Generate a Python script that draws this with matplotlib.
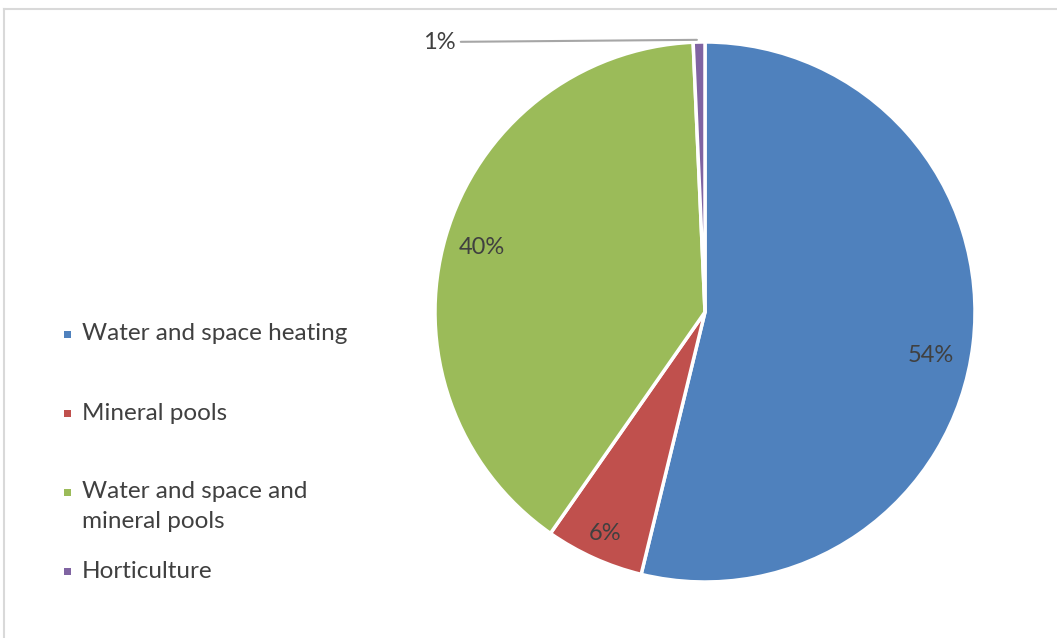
import matplotlib
matplotlib.use("Agg")
import matplotlib.pyplot as plt
from matplotlib.patches import Rectangle
from matplotlib.lines import Line2D

categories = ["Water and space heating", "Mineral pools",
              "Water and space and\nmineral pools", "Horticulture"]
values = [53.8, 5.9, 39.6, 0.7]
colors = ["#4F81BD", "#C0504D", "#9BBB59", "#8064A2"]

plt.rcParams['font.family'] = ['Lato', 'DejaVu Sans']
W, H = 1057, 638
fig = plt.figure(figsize=(W / 100, H / 100), dpi=100)

# frame border (top and left visible)
fig.add_artist(Line2D([3.5 / W, 3.5 / W], [0, 1 - 9 / H], transform=fig.transFigure,
                      color="#D9D9D9", lw=1.5))
fig.add_artist(Line2D([3.5 / W, 1], [1 - 9 / H, 1 - 9 / H], transform=fig.transFigure,
                      color="#D9D9D9", lw=1.5))

cx, cy, r = 705, 312, 270
ax = fig.add_axes([(cx - r) / W, (H - cy - r) / H, 2 * r / W, 2 * r / H])

def fmt(p):
    return f"{p:.0f}%"

wedges, texts, autotexts = ax.pie(values, colors=colors, startangle=90, counterclock=False,
                                  radius=1, autopct=fmt, pctdistance=0.86,
                                  wedgeprops=dict(edgecolor='white', linewidth=2.5),
                                  textprops=dict(color='#404040', fontsize=17))
ax.set_xlim(-1, 1)
ax.set_ylim(-1, 1)
ax.set_aspect('equal')
ax.axis('off')

# Excel-style "best fit" label placement nudges
autotexts[0].set_position((0.835, -0.16))
autotexts[1].set_position((-0.37, -0.82))

# small slice label outside with leader line
autotexts[3].set_visible(False)
ax.annotate(fmt(values[3]), xy=(-0.03, 1.008), xytext=(-0.925, 1.0),
            ha='right', va='center', color='#404040', fontsize=17,
            arrowprops=dict(arrowstyle='-', color='#A6A6A6', lw=1.5,
                            shrinkA=2, shrinkB=0),
            annotation_clip=False)

# legend
y0, step = 334, 79
for i, (lab, col) in enumerate(zip(categories, colors)):
    y = y0 + i * step
    fig.add_artist(Rectangle((64 / W, (H - y - 3.5) / H), 7 / W, 7 / H,
                             transform=fig.transFigure, color=col, lw=0))
    for k, line in enumerate(lab.split('\n')):
        fig.text(82 / W, (H - y - 30 * k) / H, line, ha='left', va='center',
                 color='#404040', fontsize=17.5)

fig.savefig("out.png", dpi=100, facecolor='white')
